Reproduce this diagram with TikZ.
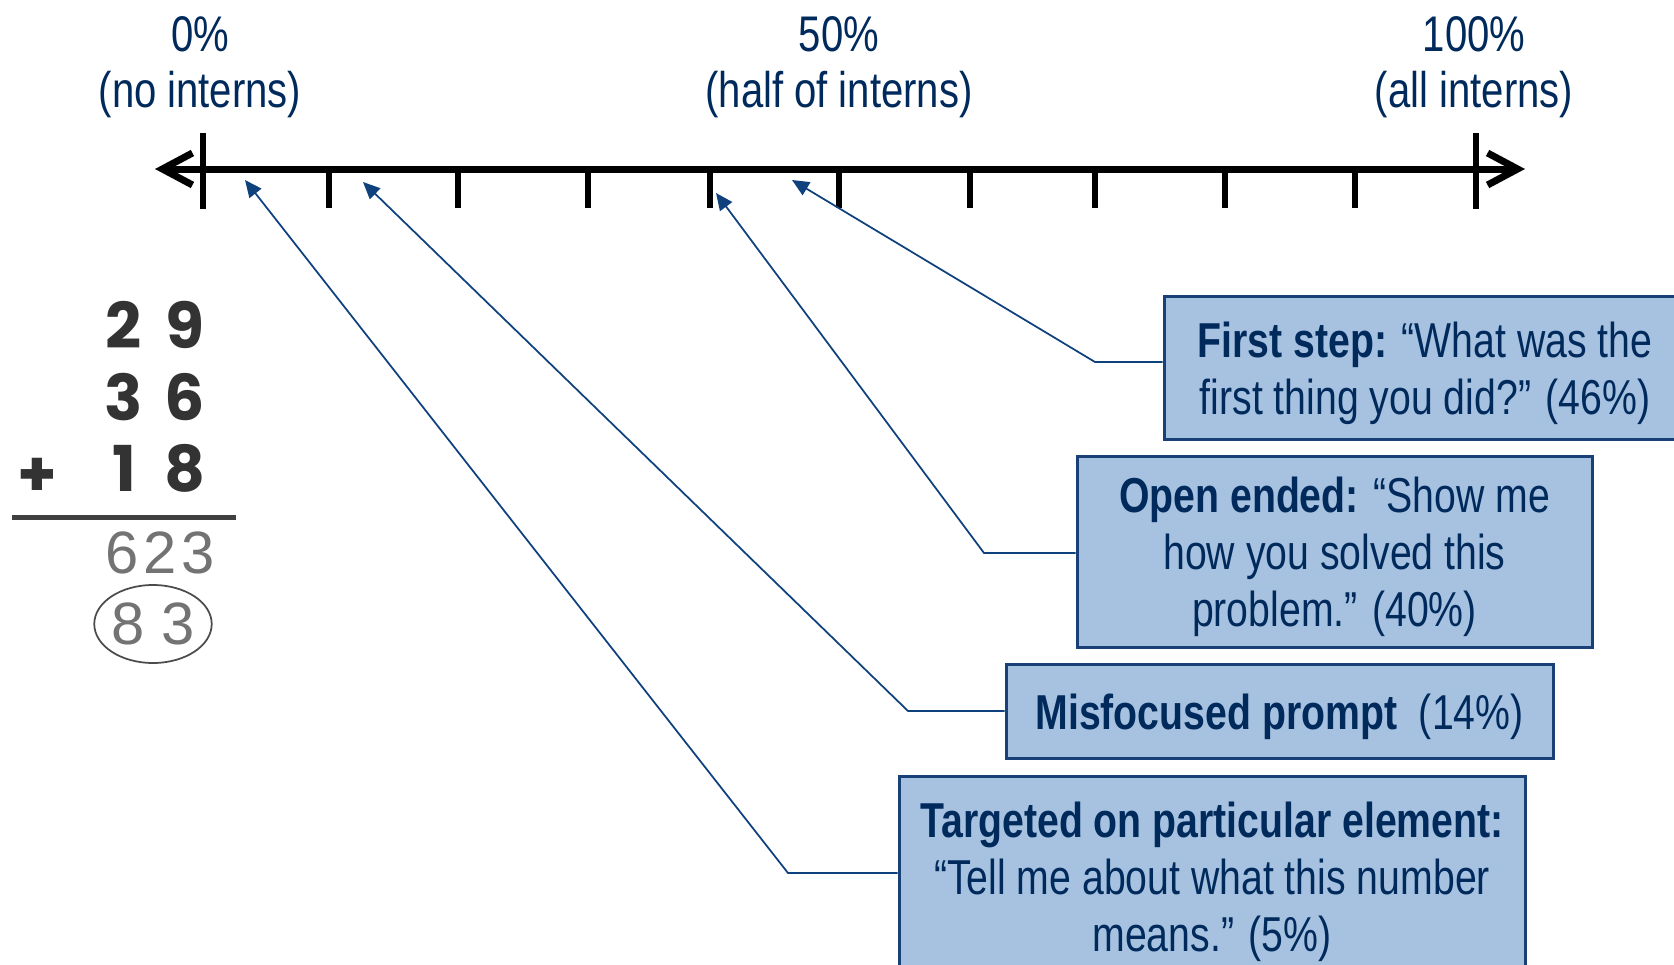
\documentclass[tikz,border=0pt]{standalone}
\usepackage{fontspec}
\setmainfont{Liberation Sans}[FakeStretch=0.8]
\newfontfamily\digitfont{Poppins}
\newfontfamily\handfont{Liberation Sans}
\usepackage{tikz}
\usetikzlibrary{arrows.meta,shapes.geometric}

\definecolor{navy}{RGB}{0,42,92}
\definecolor{boxfill}{RGB}{167,194,224}
\definecolor{boxline}{RGB}{25,65,120}
\definecolor{linkblue}{RGB}{15,65,125}

% taller first line, so the text sits a little lower in its box
\newcommand{\lift}{\rule{0pt}{9.4mm}}

\begin{document}
\begin{tikzpicture}[x=0.2mm, y=-0.2mm,
    numline/.style={line width=1.4mm},
    notch/.style={line width=1.2mm},
    pct/.style={anchor=base, text=navy, inner sep=0, font=\fontsize{28.5pt}{32pt}\selectfont},
    qbox/.style={draw=boxline, line width=0.6mm, fill=boxfill, text=navy, align=center, inner sep=0,
        font=\fontsize{27.9pt}{32.4pt}\selectfont},
    pointer/.style={draw=linkblue, line width=0.35mm, -{Triangle[length=3.4mm, width=3mm]}},
    digit/.style={text=black!80, font=\digitfont\bfseries\fontsize{36pt}{36pt}\selectfont},
    hand/.style={text=black!55, font=\handfont\fontsize{34pt}{34pt}\selectfont}]

    \useasboundingbox (0,0) rectangle (1674,964);

    % scale labels
    \foreach \n/\x/\p/\t in {zero/200/0/no interns, half/839/50/half of interns, all/1474/100/all interns} {
        \node[pct] (\n p) at (\x,52) {\p\%};
        \node[pct] (\n t) at (\x,108) {(\t)};
    }

    % number line
    \draw[numline, {Straight Barb[length=6mm, width=6.4mm]}-{Straight Barb[length=6mm, width=6.4mm]}]
        (155,169) -- (1525,169);
    \foreach \x in {203,1476}
        \draw[notch] (\x,133) -- (\x,209);
    \foreach \x in {329,458,588,710,839,970,1095,1225,1355}
        \draw[notch] (\x,169) -- (\x,208);

    % the sum
    \foreach \t/\o/\y [count=\i] in {2/9/325, 3/6/397, 1/8/468} {
        \node[digit] (ten\i) at (124,\y) {\t};
        \node[digit] (one\i) at (185,\y) {\o};
    }
    \node[digit] (plus) at (37,477) {+};
    \draw[line width=1mm, black!75] (12,517) -- (236,517);
    \node[hand] (total) at (160,553) {6\hspace{0.9mm}2\hspace{0.9mm}3};
    \node[hand, ellipse, draw=black!70, line width=0.35mm, inner sep=0,
        minimum width=23.4mm, minimum height=15.6mm] (answer) at (153,624) {8 3};

    % prompt boxes
    \node[qbox, minimum width=104.4mm, minimum height=28.6mm] (first) at (1425,367.5)
        {\lift\textbf{First step:} “What was the\\first thing you did?” (46\%)};
    \node[qbox, minimum width=103mm, minimum height=38.2mm] (open) at (1334.5,551.5)
        {\lift\textbf{Open ended:} “Show me\\how you solved this\\problem.” (40\%)};
    \node[qbox, minimum width=109.4mm, minimum height=18.8mm] (misfocus) at (1279.5,711)
        {\lift\textbf{Misfocused prompt}~~(14\%)};
    \node[qbox, minimum width=125.2mm, minimum height=40mm] (target) at (1212,876)
        {\lift\textbf{Targeted on particular element:}\\“Tell me about what this number\\means.” (5\%)};

    % pointers to the line
    \coordinate (firstbend) at (1095,362);
    \coordinate (openbend) at (984,553);
    \coordinate (misbend) at (908,711);
    \coordinate (targetbend) at (788,873);
    \coordinate (firsttip) at (792,180);
    \coordinate (opentip) at (716,193);
    \coordinate (mistip) at (363,182);
    \coordinate (targettip) at (245,180);

    \draw[pointer] (first.west |- firstbend) -- (firstbend) -- (firsttip);
    \draw[pointer] (open.west |- openbend) -- (openbend) -- (opentip);
    \draw[pointer] (misfocus.west |- misbend) -- (misbend) -- (mistip);
    \draw[pointer] (target.west |- targetbend) -- (targetbend) -- (targettip);
\end{tikzpicture}
\end{document}
